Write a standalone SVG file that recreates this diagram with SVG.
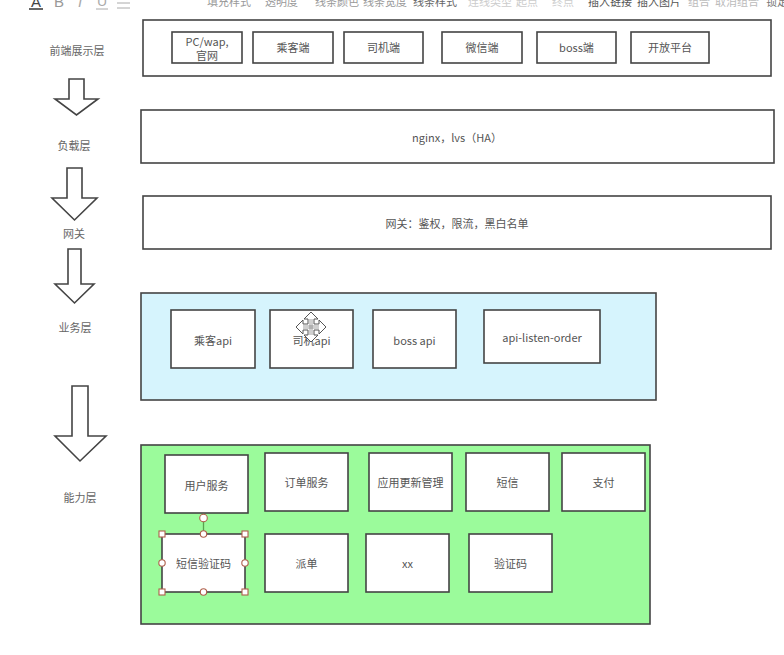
<svg xmlns="http://www.w3.org/2000/svg" width="784" height="655" viewBox="0 0 784 655">
<style>
text{font-family:"Noto Sans CJK SC","Liberation Sans",sans-serif;font-size:11px;fill:#555;text-anchor:middle;dominant-baseline:central}
.box{fill:#fff;stroke:#444;stroke-width:1.6}
.lbl{fill:#666}
.tb{dominant-baseline:alphabetic;text-anchor:start;font-size:11px}
.arr{fill:#fff;stroke:#444;stroke-width:1.6;stroke-linejoin:miter}
.h{fill:#fff;stroke:#b0604c;stroke-width:1.1}
</style>
<rect width="784" height="655" fill="#fff"/>
<g id="toolbar">
<text x="36" y="7" style="font-family:'Liberation Sans',sans-serif;font-size:15px;fill:#444;dominant-baseline:alphabetic">A</text>
<line x1="29" y1="9" x2="43" y2="9" stroke="#333" stroke-width="1.5"/>
<text x="59" y="7" style="font-family:'Liberation Sans',sans-serif;font-size:15px;fill:#999;dominant-baseline:alphabetic">B</text>
<text x="80" y="7" style="font-family:'Liberation Sans',sans-serif;font-size:15px;fill:#aaa;font-style:italic;dominant-baseline:alphabetic">I</text>
<text x="102" y="6" style="font-family:'Liberation Sans',sans-serif;font-size:14px;fill:#aaa;dominant-baseline:alphabetic">U</text>
<line x1="96" y1="9" x2="108" y2="9" stroke="#aaa" stroke-width="1"/>
<line x1="117" y1="3" x2="130" y2="3" stroke="#aaa" stroke-width="1"/>
<line x1="117" y1="8" x2="130" y2="8" stroke="#aaa" stroke-width="1"/>
<text class="tb" x="207" y="5.5" style="fill:#999">填充样式</text>
<text class="tb" x="265" y="5.5" style="fill:#999">透明度</text>
<text class="tb" x="315" y="5.5" style="fill:#999">线条颜色</text>
<text class="tb" x="363" y="5.5" style="fill:#999">线条宽度</text>
<text class="tb" x="413" y="5.5" style="fill:#666">线条样式</text>
<text class="tb" x="468" y="5.5" style="fill:#ccc">连线类型</text>
<text class="tb" x="516" y="5.5" style="fill:#ccc">起点</text>
<text class="tb" x="552" y="5.5" style="fill:#ccc">终点</text>
<text class="tb" x="588" y="5.5" style="fill:#555">插入链接</text>
<text class="tb" x="637" y="5.5" style="fill:#555">插入图片</text>
<text class="tb" x="688" y="5.5" style="fill:#bbb">组合</text>
<text class="tb" x="715" y="5.5" style="fill:#bbb">取消组合</text>
<text class="tb" x="766" y="5.5" style="fill:#777">锁定</text>
</g>
<g id="labels">
<text class="lbl" x="77" y="50">前端展示层</text>
<text class="lbl" x="74" y="145">负载层</text>
<text class="lbl" x="74" y="233">网关</text>
<text class="lbl" x="75" y="327">业务层</text>
<text class="lbl" x="80" y="497">能力层</text>
</g>
<g id="connectors">
<polygon class="arr" points="69,79 84,79 84,99 98,99 76.5,115 55,99 69,99"/>
<polygon class="arr" points="67,168 82,168 82,198 97,198 74.5,220 52,198 67,198"/>
<polygon class="arr" points="68,249 81,249 81,284 94,284 74.5,303 55,284 68,284"/>
<polygon class="arr" points="72,386 88,386 88,436 106,436 80,461 55,436 72,436"/>
</g>
<g id="frontend-layer">
<rect class="box" x="143" y="20" width="628" height="56"/>
<g id="n-pc"><rect class="box" x="172" y="32" width="70" height="31"/><text x="207" y="40.5">PC/wap,<tspan x="207" dy="14">官网</tspan></text></g>
<g id="n-passenger"><rect class="box" x="253" y="32" width="80" height="31"/><text x="293" y="47">乘客端</text></g>
<g id="n-driver"><rect class="box" x="344" y="32" width="79" height="31"/><text x="383.5" y="47">司机端</text></g>
<g id="n-wechat"><rect class="box" x="442" y="32" width="80" height="31"/><text x="482" y="47">微信端</text></g>
<g id="n-boss"><rect class="box" x="537" y="32" width="79" height="31"/><text x="576.5" y="47">boss端</text></g>
<g id="n-open"><rect class="box" x="631" y="32" width="78" height="31"/><text x="670" y="47">开放平台</text></g>
</g>
<g id="load-layer">
<rect class="box" x="141" y="110" width="633" height="53"/>
<text x="457" y="137">nginx，lvs（HA）</text>
</g>
<g id="gateway-layer">
<rect class="box" x="143" y="196" width="628" height="53"/>
<text x="457" y="223">网关：鉴权，限流，黑白名单</text>
</g>
<g id="business-layer">
<rect x="141" y="293" width="515" height="107" fill="#d6f4fd" stroke="#444" stroke-width="1.6"/>
<g id="n-passenger-api"><rect class="box" x="171" y="310" width="84" height="58"/><text x="213" y="340">乘客api</text></g>
<g id="n-driver-api"><rect class="box" x="270" y="310" width="83" height="58"/><text x="311.5" y="340">司机api</text></g>
<g id="n-boss-api"><rect class="box" x="373" y="310" width="83" height="58"/><text x="414.5" y="340">boss api</text></g>
<g id="n-listen"><rect class="box" x="484" y="310" width="116" height="53"/><text x="542" y="337">api-listen-order</text></g>
</g>
<g id="ability-layer">
<rect x="141" y="445" width="509" height="179" fill="#9bfb9b" stroke="#444" stroke-width="1.6"/>
<g id="n-user"><rect class="box" x="165" y="455" width="83" height="58"/><text x="206.5" y="485">用户服务</text></g>
<g id="n-order"><rect class="box" x="265" y="453" width="83" height="58"/><text x="306.5" y="482">订单服务</text></g>
<g id="n-update"><rect class="box" x="369" y="453" width="83" height="58"/><text x="410.5" y="482">应用更新管理</text></g>
<g id="n-sms"><rect class="box" x="466" y="453" width="83" height="58"/><text x="507.5" y="482">短信</text></g>
<g id="n-pay"><rect class="box" x="562" y="453" width="83" height="58"/><text x="603.5" y="482">支付</text></g>
<g id="n-smscode"><rect class="box" x="162" y="534" width="83" height="58"/><text x="203.5" y="563">短信验证码</text></g>
<g id="n-dispatch"><rect class="box" x="265" y="534" width="83" height="58"/><text x="306.5" y="563">派单</text></g>
<g id="n-xx"><rect class="box" x="366" y="534" width="83" height="58"/><text x="407.5" y="563">xx</text></g>
<g id="n-code"><rect class="box" x="469" y="534" width="83" height="58"/><text x="510.5" y="563">验证码</text></g>
</g>
<g id="selection">
<line x1="203.5" y1="518" x2="203.5" y2="534" stroke="#5aa050" stroke-width="1.3"/>
<circle class="h" cx="203.5" cy="518" r="3.8"/>
<rect class="h" x="159" y="531" width="6" height="6"/>
<rect class="h" x="242" y="531" width="6" height="6"/>
<rect class="h" x="159" y="589" width="6" height="6"/>
<rect class="h" x="242" y="589" width="6" height="6"/>
<circle class="h" cx="203.5" cy="534" r="3.2"/>
<circle class="h" cx="203.5" cy="592" r="3.2"/>
<circle class="h" cx="162" cy="563" r="3.2"/>
<circle class="h" cx="245" cy="563" r="3.2"/>
</g>
<g id="cursor" transform="translate(311,327)">
<path d="M0,-15 L7,-8 L3,-8 L3,-3 L8,-3 L8,-7 L15,0 L8,7 L8,3 L3,3 L3,8 L7,8 L0,15 L-7,8 L-3,8 L-3,3 L-8,3 L-8,7 L-15,0 L-8,-7 L-8,-3 L-3,-3 L-3,-8 L-7,-8 Z" fill="#fff" stroke="#555" stroke-width="1"/>
<path d="M-1,-8 V8 M1,-8 V8 M-8,-1 H8 M-8,1 H8" stroke="#777" stroke-width="0.7" fill="none"/>
</g>
</svg>
